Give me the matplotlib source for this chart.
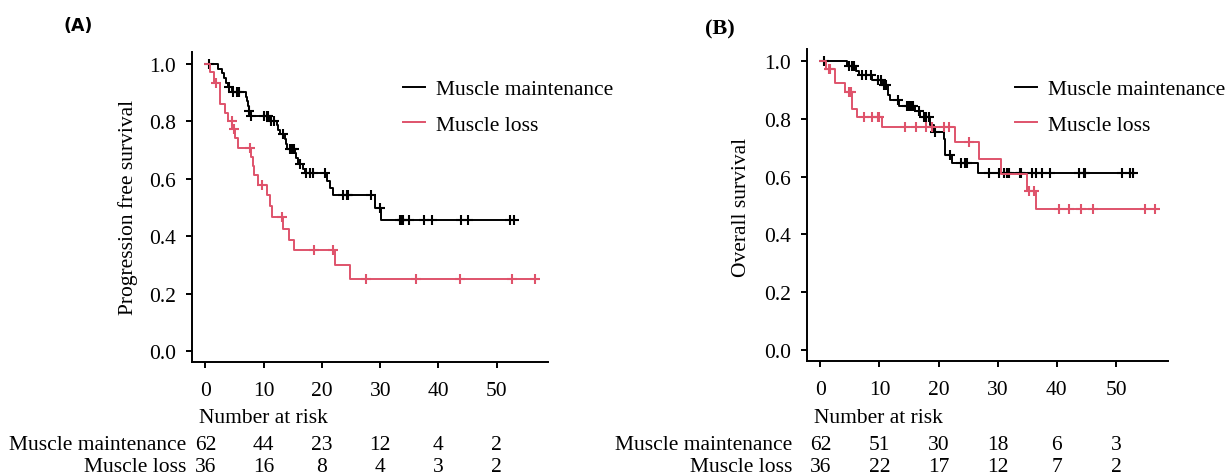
import numpy as np
import matplotlib.pyplot as plt
from matplotlib.transforms import blended_transform_factory

plt.rcParams['font.family'] = ['Liberation Serif', 'DejaVu Serif']
plt.rcParams['font.size'] = 15.5

RED = '#DF536B'
groups = ['Muscle maintenance', 'Muscle loss']
colors = ['black', RED]
xticks = [0, 10, 20, 30, 40, 50]
yticks = [0.0, 0.2, 0.4, 0.6, 0.8, 1.0]

# (A) progression free survival: step times, survival after each step, censor times
pfs_main_t = [2.1, 2.8, 3.2, 3.6, 3.9, 4.5, 7.0, 7.2, 7.3, 7.4, 7.7, 11.0, 12.3, 12.5,
              12.8, 13.6, 13.8, 14.0, 15.3, 15.6, 15.9, 16.7, 17.1, 20.9, 21.4, 21.9,
              29.1, 30.1]
pfs_main_s = [0.984, 0.968, 0.952, 0.935, 0.919, 0.903, 0.886, 0.870, 0.853, 0.836,
              0.818, 0.802, 0.786, 0.770, 0.755, 0.738, 0.722, 0.705, 0.690, 0.672,
              0.652, 0.636, 0.622, 0.594, 0.567, 0.542, 0.498, 0.455]
pfs_main_cens = [0.6, 4.1, 4.8, 5.4, 5.8, 7.5, 7.8, 10.1, 10.5, 10.8, 11.3, 11.7, 13.3,
                 14.5, 14.9, 15.2, 16.2, 17.3, 17.9, 18.5, 20.6, 23.6, 24.3, 24.5, 28.4,
                 30.0, 33.4, 33.7, 34.0, 34.95, 37.5, 38.9, 43.8, 45.1, 52.3, 53.0]
pfs_main_end = 53.0

pfs_loss_t = [0.8, 1.4, 2.5, 3.3, 3.8, 4.6, 5.1, 5.6, 7.9, 8.1, 8.3, 9.1, 10.6, 11.1,
              11.4, 13.4, 14.3, 15.2, 22.3, 24.9]
pfs_loss_s = [0.972, 0.935, 0.861, 0.830, 0.803, 0.775, 0.742, 0.708, 0.675, 0.645,
              0.612, 0.577, 0.545, 0.505, 0.467, 0.425, 0.388, 0.351, 0.301, 0.252]
pfs_loss_cens = [1.8, 4.5, 4.9, 7.66, 9.7, 13.1, 18.6, 21.9, 27.6, 36.1, 43.7, 52.6, 56.5]
pfs_loss_end = 56.5

pfs_risk = [[62, 44, 23, 12, 4, 2], [36, 16, 8, 4, 3, 2]]

# (B) overall survival
os_main_t = [4.5, 6.0, 6.6, 8.8, 10.5, 11.5, 11.7, 13.3, 16.0, 16.9, 18.5, 19.2,
             20.9, 21.0, 21.1, 22.2, 26.7]
os_main_s = [0.984, 0.967, 0.951, 0.934, 0.917, 0.882, 0.864, 0.846, 0.829, 0.807,
             0.780, 0.754, 0.730, 0.700, 0.675, 0.649, 0.614]
os_main_cens = [0.57, 4.9, 5.3, 5.7, 7.1, 7.7, 8.5, 9.7, 10.3, 10.7, 11.1, 13.1, 14.6,
                15.0, 15.3, 15.6, 16.6, 17.6, 17.9, 18.3, 19.4, 21.9, 23.7, 24.4, 24.8,
                28.5, 30.2, 31.0, 31.5, 31.9, 33.7, 33.9, 35.8, 36.4, 37.5, 38.8, 43.7,
                44.5, 44.8, 51.0, 52.4, 52.8]
os_main_end = 53.2

os_loss_t = [1.0, 2.4, 4.2, 5.4, 6.2, 10.5, 22.7, 26.9, 30.5, 35.0, 36.5]
os_loss_s = [0.972, 0.924, 0.893, 0.835, 0.806, 0.771, 0.719, 0.663, 0.609, 0.551, 0.487]
os_loss_cens = [1.4, 1.7, 4.8, 5.1, 7.3, 8.8, 9.7, 9.9, 14.3, 16.2, 17.8, 18.9, 20.9,
                21.7, 25.1, 35.3, 36.2, 40.3, 42.0, 44.0, 46.1, 54.9, 56.6]
os_loss_end = 56.6

os_risk = [[62, 51, 30, 18, 6, 3], [36, 22, 17, 12, 7, 2]]


def km(ax, times, surv, cens, end, color, label):
    t = np.r_[0, times, end]
    s = np.r_[1.0, surv, surv[-1]]
    ax.step(t, s, where='post', color=color, lw=1.4, label=label)
    idx = np.searchsorted(t, cens, side='right') - 1
    ax.plot(cens, s[idx], ls='none', marker='+', ms=7.5, mew=1.5, color=color)


def style(ax, ylabel, ylab_x):
    ax.set_xlim(-2.3, 58.8)
    ax.set_ylim(-0.038, 1.042)
    ax.set_xticks(xticks)
    ax.set_yticks(yticks)
    ax.set_yticklabels(['%.1f' % v for v in yticks])
    for side in ['top', 'right']:
        ax.spines[side].set_visible(False)
    for side in ['left', 'bottom']:
        ax.spines[side].set_linewidth(1.4)
    ax.tick_params(direction='out', length=4.5, width=1.4)
    ax.tick_params(axis='x', pad=9)
    ax.tick_params(axis='y', pad=7)
    fig.text(ylab_x, 0.565, ylabel, rotation=90, ha='center', va='center')


def risk_table(ax, risk, label_right):
    tr = blended_transform_factory(ax.transData, fig.transFigure)
    fig.text(ax.transData.transform((0, 0))[0] / fig.bbox.width - 0.005,
             1 - 419 / 477, 'Number at risk', ha='left', va='center')
    for row, y in zip(range(2), [445, 468]):
        fig.text(label_right, 1 - y / 477, groups[row], ha='right', va='center')
        for x, n in zip(xticks, risk[row]):
            ax.text(x, 1 - y / 477, str(n), transform=tr, ha='center', va='center')


fig = plt.figure(figsize=(12.27, 4.77), dpi=100)
axA = fig.add_axes([0.1565, 0.239, 0.2901, 0.650])
axB = fig.add_axes([0.6575, 0.2411, 0.2945, 0.654])

km(axA, pfs_main_t, pfs_main_s, pfs_main_cens, pfs_main_end, colors[0], groups[0])
km(axA, pfs_loss_t, pfs_loss_s, pfs_loss_cens, pfs_loss_end, colors[1], groups[1])
km(axB, os_main_t, os_main_s, os_main_cens, os_main_end, colors[0], groups[0])
km(axB, os_loss_t, os_loss_s, os_loss_cens, os_loss_end, colors[1], groups[1])

style(axA, 'Progression free survival', 128 / 1227)
style(axB, 'Overall survival', 742 / 1227)

for ax, lx in [(axA, 403), (axB, 1015)]:
    ax.legend(loc='upper left', bbox_to_anchor=(lx / 1227, 1 - 80 / 477),
              bbox_transform=fig.transFigure, frameon=False, borderpad=0,
              borderaxespad=0, handlelength=1.0, handletextpad=0.55,
              labelspacing=0.72)

fig.canvas.draw()
risk_table(axA, pfs_risk, 186 / 1227)
risk_table(axB, os_risk, 792 / 1227)

fig.text(78 / 1227, 1 - 26 / 477, '(A)', family='DejaVu Sans', weight='bold',
         size=12.5, ha='center', va='center')
fig.text(720 / 1227, 1 - 29 / 477, '(B)', weight='bold', size=16,
         ha='center', va='center')

fig.savefig('out.png', dpi=100)
